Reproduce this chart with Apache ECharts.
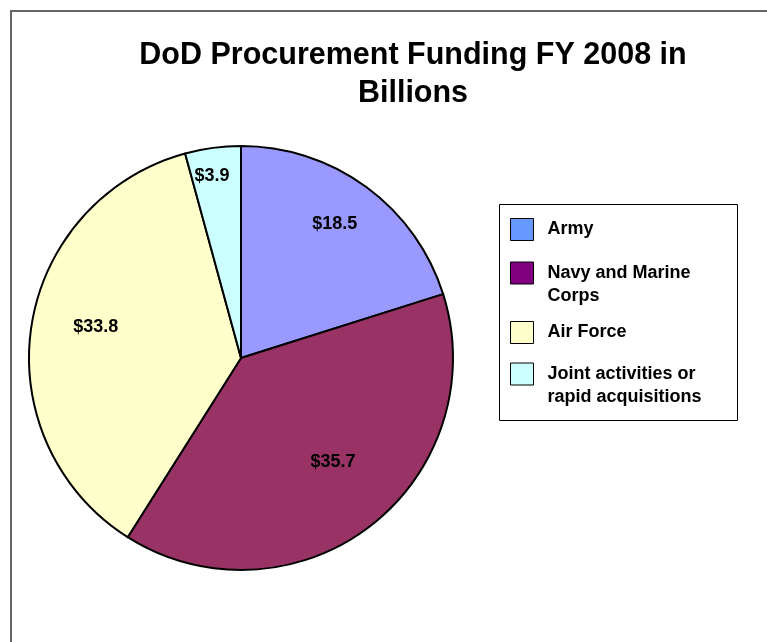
<!DOCTYPE html>
<html>
<head>
<meta charset="utf-8">
<script src="https://cdn.jsdelivr.net/npm/echarts@6/dist/echarts.min.js"></script>
<style>html,body{margin:0;padding:0;background:#fff;}#c{width:767px;height:642px;}</style>
</head>
<body>
<div id="c"></div>
<script>
const categories = ['Army', 'Navy and Marine Corps', 'Air Force', 'Joint activities or rapid acquisitions'];
const legendLabels = ['Army', 'Navy and Marine\nCorps', 'Air Force', 'Joint activities or\nrapid acquisitions'];
const values = [18.5, 35.7, 33.8, 3.9];
const sliceColors = ['#9999ff', '#993366', '#ffffcc', '#ccffff'];
const legendColors = ['#6699ff', '#800080', '#ffffcc', '#ccffff'];

const FONT = "'Liberation Sans', Arial, sans-serif";
const CX = 241, CY = 358, R = 212;
const labelFrac = [0.77, 0.655, 0.70, 0.87];
const labelShiftDeg = [-1.2, -3.9, 3.5, -1.4];
const legendCenters = [229, 273, 332, 374];
const LH = 23;

const total = values.reduce((a, b) => a + b, 0);
const midAngles = [];
let acc = 0;
values.forEach(v => { midAngles.push((acc + v / 2) / total * 2 * Math.PI); acc += v; });

const legends = categories.map((name, i) => {
  const multi = legendLabels[i].indexOf('\n') >= 0;
  return {
    orient: 'vertical',
    left: 510,
    top: multi ? legendCenters[i] - 1.5 * LH : legendCenters[i] - 11,
    padding: 0,
    itemWidth: 23,
    itemHeight: 22,
    icon: 'rect',
    selectedMode: false,
    formatter: () => (multi ? ' \n' : '') + legendLabels[i],
    textStyle: {
      fontFamily: FONT, fontWeight: 'bold', fontSize: 18, color: '#000',
      lineHeight: LH,
      padding: [0, 0, 0, 9]
    },
    data: [{ name: name, itemStyle: { color: legendColors[i], borderColor: '#000', borderWidth: 1 } }]
  };
});

const chart = echarts.init(document.getElementById('c'), null, { renderer: 'canvas' });
chart.setOption({
  backgroundColor: '#fff',
  animation: false,
  title: {
    text: 'DoD Procurement Funding FY 2008 in\nBillions',
    left: 413,
    top: 37,
    padding: 0,
    textAlign: 'center',
    textStyle: { fontFamily: FONT, fontWeight: 'bold', fontSize: 30.5, lineHeight: 38, color: '#000' }
  },
  legend: legends,
  graphic: [
    { type: 'rect', z: -10, shape: { x: 11, y: 11, width: 800, height: 700 }, style: { fill: 'none', stroke: '#666', lineWidth: 2 } },
    { type: 'rect', z: -5, shape: { x: 499.5, y: 204.5, width: 238, height: 216 }, style: { fill: '#fff', stroke: '#000', lineWidth: 1 } }
  ],
  series: [{
    type: 'pie',
    center: [CX, CY],
    radius: [0, R],
    startAngle: 90,
    clockwise: true,
    avoidLabelOverlap: false,
    itemStyle: { borderColor: '#000', borderWidth: 2 },
    label: {
      show: true,
      position: 'inside',
      formatter: p => '$' + p.value,
      fontFamily: FONT, fontWeight: 'bold', fontSize: 18, color: '#000'
    },
    labelLine: { show: false },
    emphasis: { disabled: true },
    labelLayout: function (params) {
      const i = params.dataIndex;
      const a = midAngles[i] + labelShiftDeg[i] * Math.PI / 180;
      const d = R * labelFrac[i];
      return { x: CX + d * Math.sin(a), y: CY - d * Math.cos(a), align: 'center', verticalAlign: 'middle' };
    },
    data: categories.map((name, i) => ({ name: name, value: values[i], itemStyle: { color: sliceColors[i] } }))
  }]
});
</script>
</body>
</html>
